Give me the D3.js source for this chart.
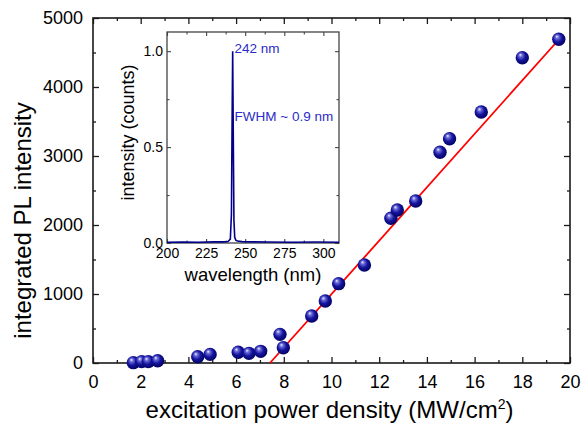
<!DOCTYPE html>
<html>
<head>
<meta charset="utf-8">
<script src="https://cdn.jsdelivr.net/npm/d3@7"></script>
<style>
  body { margin: 0; background: #fff; }
  svg { font-family: "Liberation Sans", Arial, sans-serif; }
</style>
</head>
<body>
<div id="chart"></div>
<script>
// main panel: excitation power density (MW/cm2) vs integrated PL intensity
const powerDensity = [1.69, 2.04, 2.32, 2.71, 4.39, 4.91, 6.09, 6.54, 7.03, 7.84, 7.98,
  9.17, 9.74, 10.30, 11.38, 12.49, 12.76, 13.53, 14.55, 14.95, 16.28, 18.0, 19.53];
const plIntensity = [5, 20, 20, 33, 90, 125, 155, 140, 169, 415, 222,
  681, 898, 1150, 1420, 2097, 2217, 2348, 3054, 3251, 3638, 4425, 4691];
const fitX = [7.42, 19.6];
const fitY = [0, 4714];
const xTicks = [0, 2, 4, 6, 8, 10, 12, 14, 16, 18, 20];
const yTicks = [0, 1000, 2000, 3000, 4000, 5000];

// inset: PL spectrum
const wavelength = [200, 210, 220, 230, 236, 239, 240.5, 241.2, 241.6, 242, 242.4, 242.8, 243.3, 244, 245, 248, 255, 265, 280, 295, 310];
const spectrum = [0.004, 0.005, 0.004, 0.006, 0.006, 0.008, 0.02, 0.15, 0.6, 1.0, 0.55, 0.12, 0.03, 0.015, 0.01, 0.007, 0.006, 0.005, 0.004, 0.005, 0.004];
const insetXTicks = [200, 225, 250, 275, 300];
const insetYTicks = [0, 0.5, 1.0];

const width = 586, height = 432;
const m = {left: 93, right: 570, top: 18, bottom: 363};
const ink = '#1a1a1a';
const navy = '#00008b';
const annot = '#2b2bc8';

const svg = d3.select('#chart').append('svg')
  .attr('width', width)
  .attr('height', height);

const defs = svg.append('defs');
const ball = defs.append('radialGradient')
  .attr('id', 'ball')
  .attr('cx', '45%').attr('cy', '45%').attr('r', '60%')
  .attr('fx', '35%').attr('fy', '28%');
ball.append('stop').attr('offset', '0%').attr('stop-color', '#f0f0ff');
ball.append('stop').attr('offset', '22%').attr('stop-color', '#6a6ad8');
ball.append('stop').attr('offset', '55%').attr('stop-color', '#14149e');
ball.append('stop').attr('offset', '100%').attr('stop-color', '#00005a');

const x = d3.scaleLinear().domain([0, 20]).range([m.left, m.right]);
const y = d3.scaleLinear().domain([0, 5000]).range([m.bottom, m.top]);

function styleAxis(g, size) {
  g.select('.domain').remove();
  g.selectAll('line').attr('stroke', ink).attr('stroke-width', 1.3);
  g.selectAll('text').attr('fill', '#000').style('font-size', size);
}

// major + minor ticks on all four sides, pointing inward
const xMinor = d3.range(1, 20, 2);
const yMinor = d3.range(500, 5000, 1000);

svg.append('g').attr('transform', `translate(0,${m.bottom})`)
  .call(d3.axisBottom(x).tickValues(xTicks).tickSizeInner(-6).tickSizeOuter(0).tickPadding(12))
  .call(g => styleAxis(g, '18px'));
svg.append('g').attr('transform', `translate(0,${m.bottom})`)
  .call(d3.axisBottom(x).tickValues(xMinor).tickSize(-3).tickFormat(''))
  .call(g => styleAxis(g, '0px'));
svg.append('g').attr('transform', `translate(0,${m.top})`)
  .call(d3.axisTop(x).tickValues(xTicks).tickSize(-6).tickFormat(''))
  .call(g => styleAxis(g, '0px'));
svg.append('g').attr('transform', `translate(0,${m.top})`)
  .call(d3.axisTop(x).tickValues(xMinor).tickSize(-3).tickFormat(''))
  .call(g => styleAxis(g, '0px'));

svg.append('g').attr('transform', `translate(${m.left},0)`)
  .call(d3.axisLeft(y).tickValues(yTicks).tickFormat(d3.format('d')).tickSizeInner(-6).tickSizeOuter(0).tickPadding(10))
  .call(g => styleAxis(g, '18px'));
svg.append('g').attr('transform', `translate(${m.left},0)`)
  .call(d3.axisLeft(y).tickValues(yMinor).tickSize(-3).tickFormat(''))
  .call(g => styleAxis(g, '0px'));
svg.append('g').attr('transform', `translate(${m.right},0)`)
  .call(d3.axisRight(y).tickValues(yTicks).tickSize(-6).tickFormat(''))
  .call(g => styleAxis(g, '0px'));
svg.append('g').attr('transform', `translate(${m.right},0)`)
  .call(d3.axisRight(y).tickValues(yMinor).tickSize(-3).tickFormat(''))
  .call(g => styleAxis(g, '0px'));

svg.append('rect')
  .attr('x', m.left).attr('y', m.top)
  .attr('width', m.right - m.left).attr('height', m.bottom - m.top)
  .attr('fill', 'none').attr('stroke', ink).attr('stroke-width', 1.6);

// axis titles
svg.append('text')
  .attr('transform', `translate(31,${(m.top + m.bottom) / 2 + 30}) rotate(-90)`)
  .attr('text-anchor', 'middle')
  .style('font-size', '24px')
  .text('integrated PL intensity');

const xTitle = svg.append('text')
  .attr('x', (m.left + m.right) / 2 - 2).attr('y', 418)
  .attr('text-anchor', 'middle')
  .style('font-size', '24px');
xTitle.append('tspan').text('excitation power density (MW/cm');
xTitle.append('tspan').attr('dy', -9).style('font-size', '14px').text('2');
xTitle.append('tspan').attr('dy', 9).text(')');

// fit line
svg.append('line')
  .attr('x1', x(fitX[0])).attr('y1', y(fitY[0]))
  .attr('x2', x(fitX[1])).attr('y2', y(fitY[1]))
  .attr('stroke', '#ff0000').attr('stroke-width', 1.8);

// data balls
svg.append('g').selectAll('circle')
  .data(powerDensity.map((d, i) => [d, plIntensity[i]]))
  .join('circle')
  .attr('cx', d => x(d[0]))
  .attr('cy', d => y(d[1]))
  .attr('r', 6.7)
  .attr('fill', 'url(#ball)');

// ---- inset ----
const ins = {left: 167, right: 339, top: 32, bottom: 243};
const ix = d3.scaleLinear().domain([200, 310]).range([ins.left, ins.right]);
const iy = d3.scaleLinear().domain([0, 1.1]).range([ins.bottom, ins.top]);
const insetInk = '#444';

function styleInset(g, size) {
  g.select('.domain').remove();
  g.selectAll('line').attr('stroke', insetInk).attr('stroke-width', 1.1);
  g.selectAll('text').attr('fill', '#000').style('font-size', size);
}

const ixMinor = d3.range(212.5, 310, 25);
const iyMinor = [0.25, 0.75];

svg.append('g').attr('transform', `translate(0,${ins.bottom})`)
  .call(d3.axisBottom(ix).tickValues(insetXTicks).tickSizeInner(-4).tickSizeOuter(0).tickPadding(5))
  .call(g => styleInset(g, '14px'));
svg.append('g').attr('transform', `translate(0,${ins.bottom})`)
  .call(d3.axisBottom(ix).tickValues(ixMinor).tickSize(-2.5).tickFormat(''))
  .call(g => styleInset(g, '0px'));
svg.append('g').attr('transform', `translate(0,${ins.top})`)
  .call(d3.axisTop(ix).tickValues(insetXTicks).tickSize(-4).tickFormat(''))
  .call(g => styleInset(g, '0px'));
svg.append('g').attr('transform', `translate(0,${ins.top})`)
  .call(d3.axisTop(ix).tickValues(ixMinor).tickSize(-2.5).tickFormat(''))
  .call(g => styleInset(g, '0px'));

svg.append('g').attr('transform', `translate(${ins.left},0)`)
  .call(d3.axisLeft(iy).tickValues(insetYTicks).tickFormat(d3.format('.1f')).tickSizeInner(-4).tickSizeOuter(0).tickPadding(4))
  .call(g => styleInset(g, '14px'));
svg.append('g').attr('transform', `translate(${ins.left},0)`)
  .call(d3.axisLeft(iy).tickValues(iyMinor).tickSize(-2.5).tickFormat(''))
  .call(g => styleInset(g, '0px'));
svg.append('g').attr('transform', `translate(${ins.right},0)`)
  .call(d3.axisRight(iy).tickValues(insetYTicks).tickSize(-4).tickFormat(''))
  .call(g => styleInset(g, '0px'));
svg.append('g').attr('transform', `translate(${ins.right},0)`)
  .call(d3.axisRight(iy).tickValues(iyMinor).tickSize(-2.5).tickFormat(''))
  .call(g => styleInset(g, '0px'));

svg.append('rect')
  .attr('x', ins.left).attr('y', ins.top)
  .attr('width', ins.right - ins.left).attr('height', ins.bottom - ins.top)
  .attr('fill', 'none').attr('stroke', insetInk).attr('stroke-width', 1.3);

const spectrumLine = d3.line()
  .x((d, i) => ix(d))
  .y((d, i) => iy(spectrum[i]));

svg.append('path')
  .datum(wavelength)
  .attr('d', spectrumLine)
  .attr('fill', 'none')
  .attr('stroke', navy)
  .attr('stroke-width', 1.6);

svg.append('text')
  .attr('x', ix(243.2)).attr('y', 53)
  .attr('fill', annot)
  .style('font-size', '13.5px')
  .text('242 nm');
svg.append('text')
  .attr('x', ix(243.2)).attr('y', 121)
  .attr('fill', annot)
  .style('font-size', '13.5px')
  .text('FWHM ~ 0.9 nm');

svg.append('text')
  .attr('transform', `translate(134,${(ins.top + ins.bottom) / 2 - 5}) rotate(-90)`)
  .attr('text-anchor', 'middle')
  .style('font-size', '18px')
  .text('intensity (counts)');
svg.append('text')
  .attr('x', 253).attr('y', 281)
  .attr('text-anchor', 'middle')
  .style('font-size', '18.5px')
  .text('wavelength (nm)');
</script>
</body>
</html>
